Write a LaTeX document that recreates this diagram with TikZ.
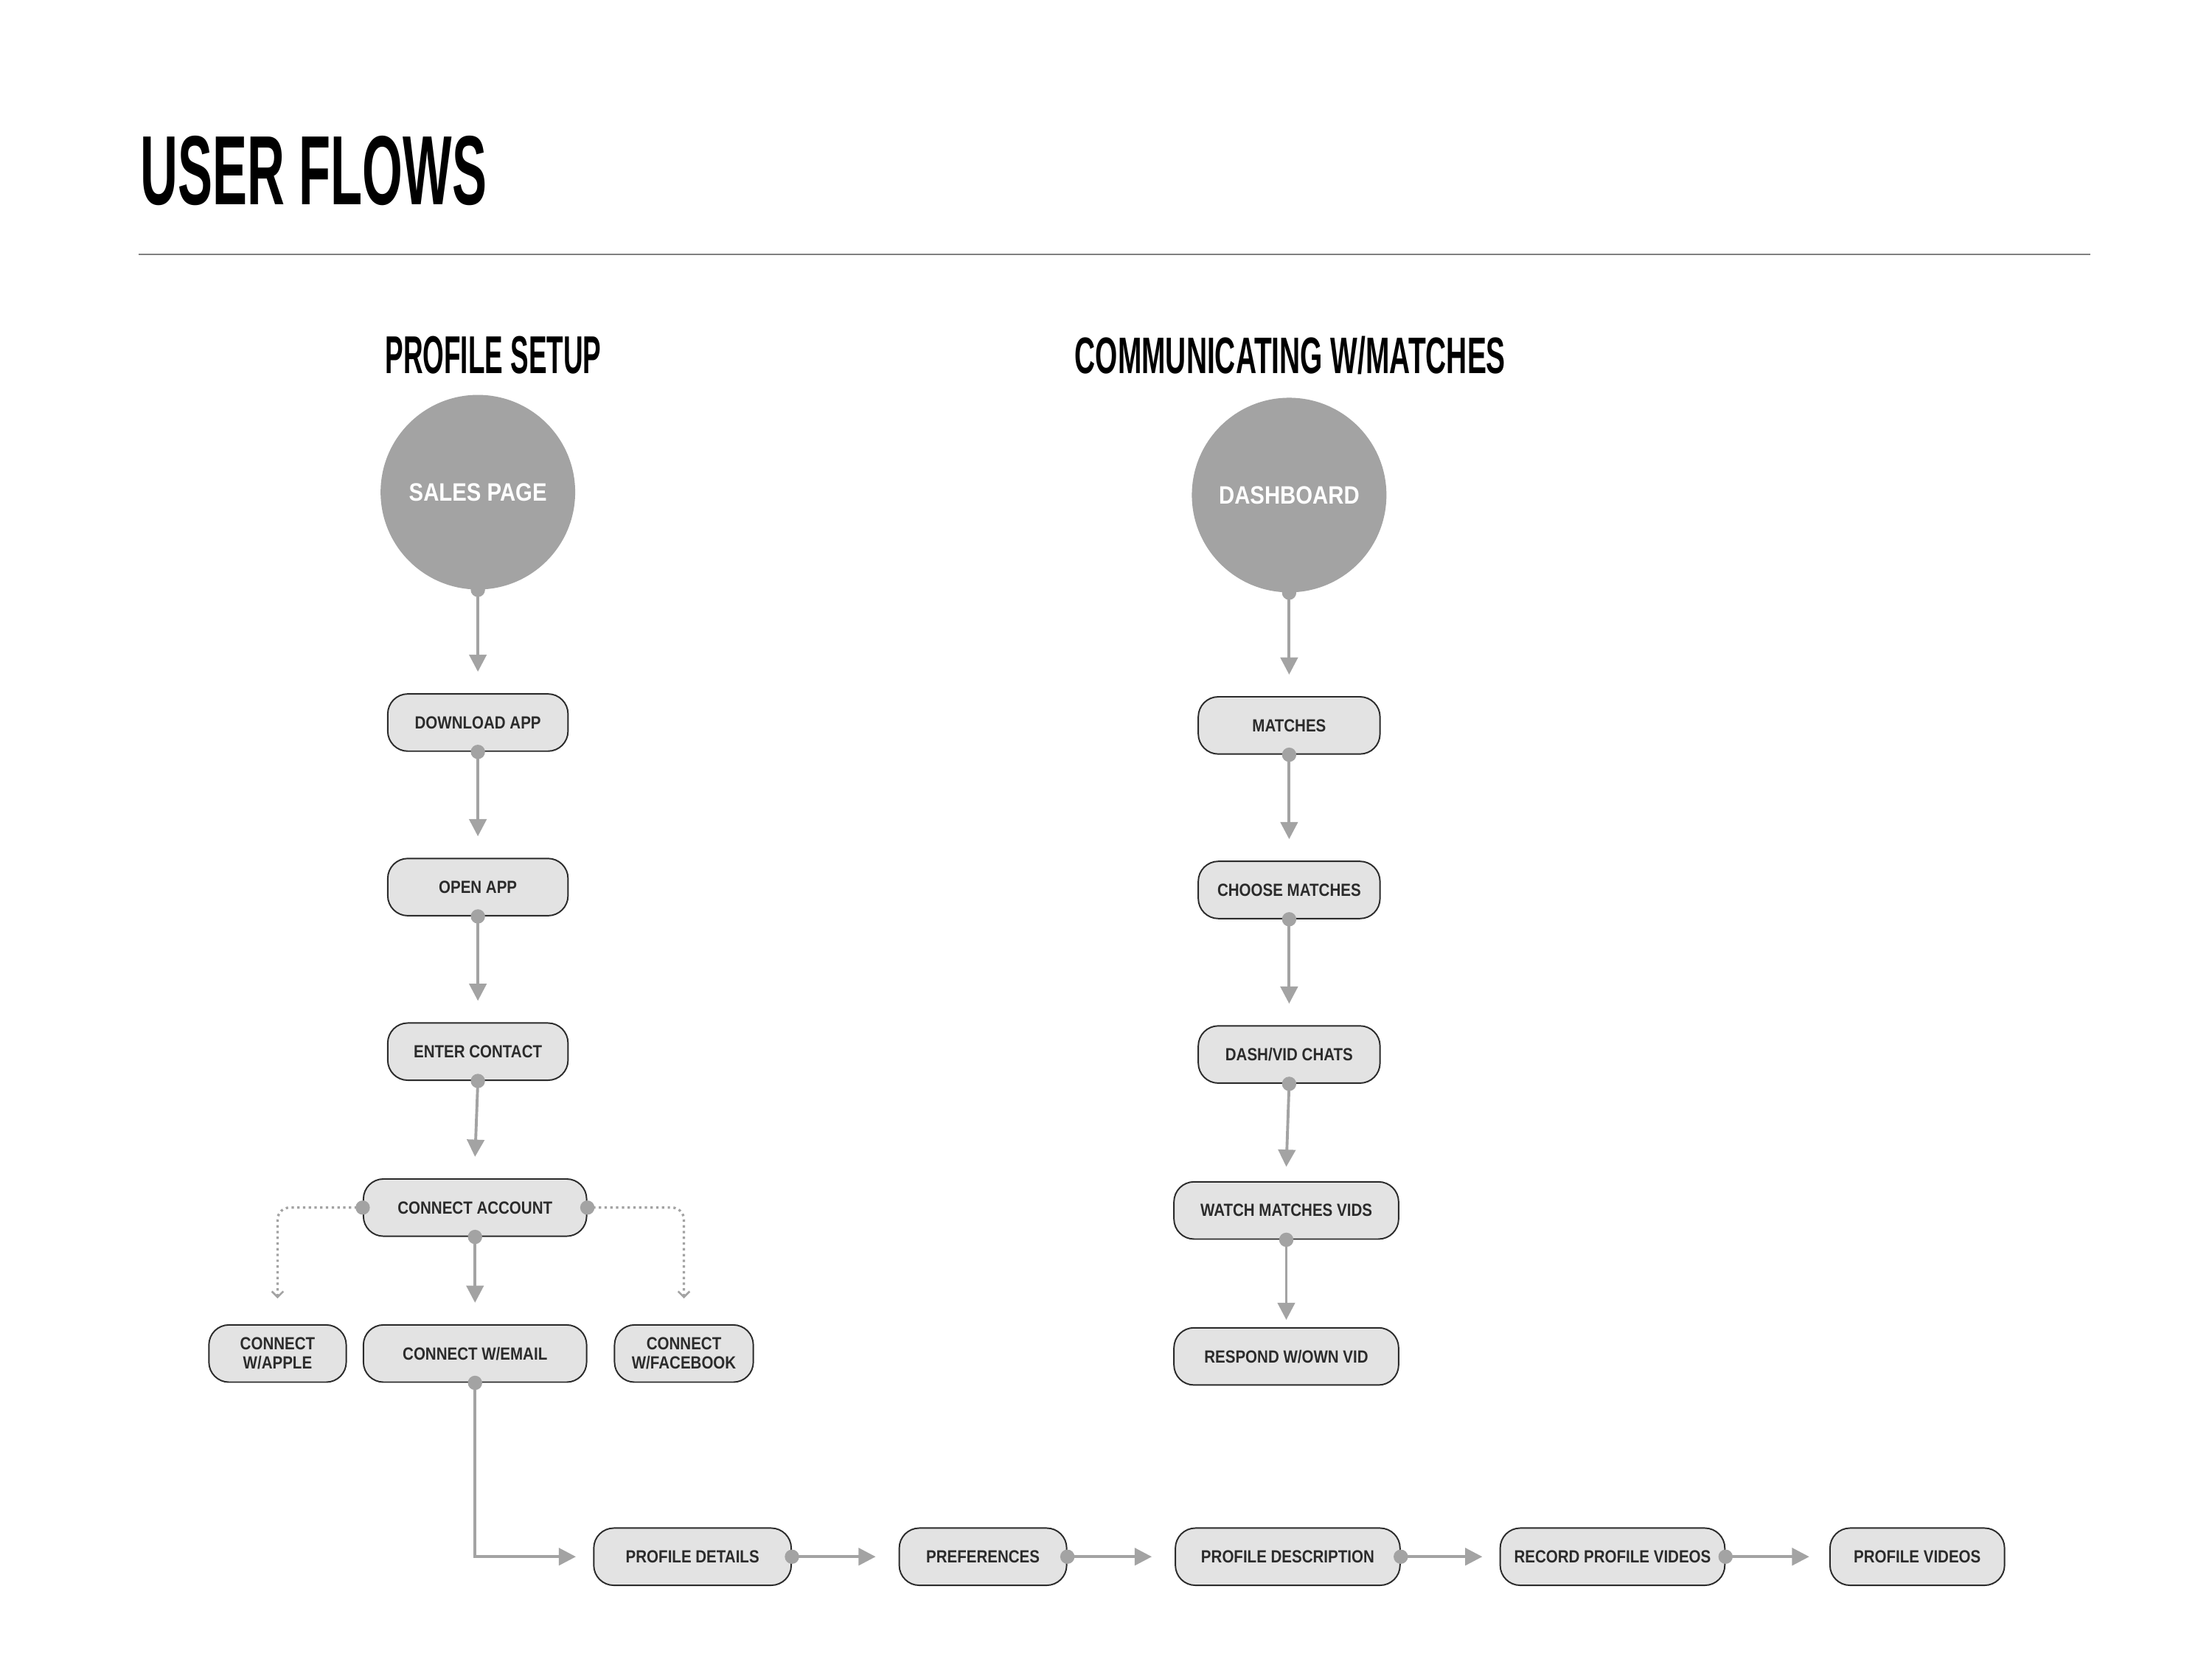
\documentclass[tikz,border=0pt]{standalone}
\usepackage{fontspec}
\setmainfont{Liberation Sans}
\usetikzlibrary{calc,arrows.meta}
\definecolor{lg}{HTML}{A3A3A3}
\definecolor{nf}{HTML}{E3E3E3}
\definecolor{tx}{HTML}{2B2B2B}
\tikzset{
 box/.style={draw=tx,line width=0.3mm,fill=nf,rounded corners=4.2mm,minimum height=12mm,inner sep=0pt,align=center,font=\bfseries\fontsize{10.5}{11.5}\selectfont,text=tx},
 circ/.style={circle,fill=lg,minimum size=40.8mm,inner sep=0pt,text=white,font=\bfseries\fontsize{15}{17}\selectfont},
 flow/.style={draw=lg,line width=0.6mm,-{Triangle[length=3.6mm,width=3.6mm]}},
 dflow/.style={draw=lg,line width=0.5mm,dotted,rounded corners=2.5mm,-{Straight Barb[length=1.2mm,width=2.4mm,line width=0.4mm]}},
 hdr/.style={anchor=north west,inner sep=0pt,text=black}
}
\newcommand{\sx}[1]{\scalebox{0.86}[1]{#1}}
\newcommand{\dotat}[1]{\fill[lg] (#1) circle (5);}
\begin{document}
\begin{tikzpicture}[x=0.3mm,y=-0.3mm]
\useasboundingbox (0,0) rectangle (1546,1159.5);
\fill[white] (0,0) rectangle (1546,1159.5);
\node[hdr] (t) at (98,95) {\resizebox{72.6mm}{14.4mm}{\bfseries USER FLOWS}};
\draw[gray,line width=0.3mm] (97,178) -- (1461,178);
\node[hdr] (h1) at (269,235) {\resizebox{45.3mm}{7.8mm}{\bfseries PROFILE SETUP}};
\node[hdr] (h2) at (751,235) {\resizebox{90.3mm}{7.8mm}{\bfseries COMMUNICATING W/MATCHES}};
% left column
\node[circ] (sp) at (334,344) {\sx{SALES PAGE}};
\node[box,minimum width=37.8mm] (dl) at (334,505) {\sx{DOWNLOAD APP}};
\node[box,minimum width=37.8mm] (op) at (334,620) {\sx{OPEN APP}};
\node[box,minimum width=37.8mm] (ec) at (334,735) {\sx{ENTER CONTACT}};
\node[box,minimum width=46.8mm] (ca) at (332,844) {\sx{CONNECT ACCOUNT}};
\node[box,minimum width=46.8mm] (ce) at (332,946) {\sx{CONNECT W/EMAIL}};
\node[box,minimum width=28.8mm] (ap) at (194,946) {\sx{CONNECT}\\\sx{W/APPLE}};
\node[box,minimum width=29.1mm] (fb) at (478,946) {\sx{CONNECT}\\\sx{W/FACEBOOK}};
% bottom row
\node[box,minimum width=41.4mm] (pd) at (484,1088) {\sx{PROFILE DETAILS}};
\node[box,minimum width=35.1mm] (pr) at (687,1088) {\sx{PREFERENCES}};
\node[box,minimum width=47.1mm] (pde) at (900,1088) {\sx{PROFILE DESCRIPTION}};
\node[box,minimum width=47.1mm] (rv) at (1127,1088) {\sx{RECORD PROFILE VIDEOS}};
\node[box,minimum width=36.6mm] (pv) at (1340,1088) {\sx{PROFILE VIDEOS}};
% right column
\node[circ] (db) at (901,346) {\sx{DASHBOARD}};
\node[box,minimum width=38.1mm] (ma) at (901,507) {\sx{MATCHES}};
\node[box,minimum width=38.1mm] (cm) at (901,622) {\sx{CHOOSE MATCHES}};
\node[box,minimum width=38.1mm] (dv) at (901,737) {\sx{DASH/VID CHATS}};
\node[box,minimum width=47.1mm] (wm) at (899,846) {\sx{WATCH MATCHES VIDS}};
\node[box,minimum width=47.1mm] (rw) at (899,948) {\sx{RESPOND W/OWN VID}};
% connectors
\draw[flow] (sp.south) -- ($(dl.north)+(0,-15)$);
\draw[flow] (dl.south) -- ($(op.north)+(0,-15)$);
\draw[flow] (op.south) -- ($(ec.north)+(0,-15)$);
\draw[flow] (ec.south) -- ($(ca.north)+(0,-15)$);
\draw[flow] (ca.south) -- ($(ce.north)+(0,-15)$);
\draw[dflow] (ca.west) -| ($(ap.north)+(0,-18)$);
\draw[dflow] (ca.east) -| ($(fb.north)+(0,-18)$);
\draw[flow] (ce.south) |- ($(pd.west)+(-12,0)$);
\draw[flow] (pd.east) -- ($(pr.west)+(-16,0)$);
\draw[flow] (pr.east) -- ($(pde.west)+(-16,0)$);
\draw[flow] (pde.east) -- ($(rv.west)+(-12,0)$);
\draw[flow] (rv.east) -- ($(pv.west)+(-14,0)$);
\draw[flow] (db.south) -- ($(ma.north)+(0,-15)$);
\draw[flow] (ma.south) -- ($(cm.north)+(0,-15)$);
\draw[flow] (cm.south) -- ($(dv.north)+(0,-15)$);
\draw[flow] (dv.south) -- ($(wm.north)+(0,-10)$);
\draw[flow] (wm.south) -- ($(rw.north)+(0,-5)$);
\foreach \p in {sp.south,dl.south,op.south,ec.south,ca.south,ca.west,ca.east,ce.south,pd.east,pr.east,pde.east,rv.east,db.south,ma.south,cm.south,dv.south,wm.south} {\dotat{\p}}
\end{tikzpicture}
\end{document}
